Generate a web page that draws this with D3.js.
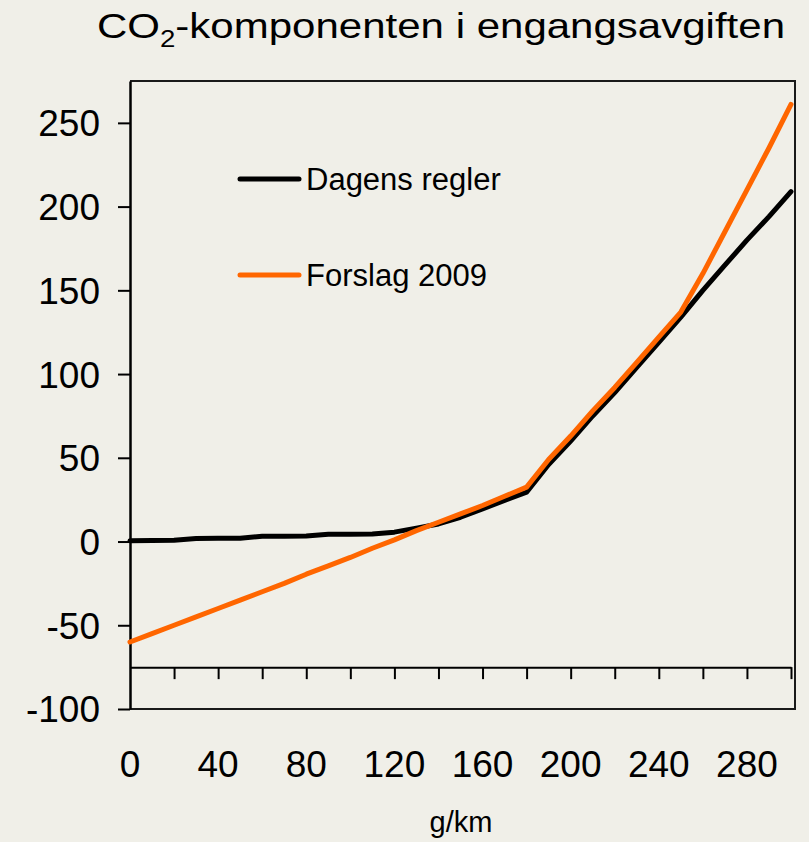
<!DOCTYPE html>
<html>
<head>
<meta charset="utf-8">
<script src="https://cdn.jsdelivr.net/npm/d3@7"></script>
<style>
  body { margin: 0; background: #f0efe8; }
  svg { display: block; font-family: "Liberation Sans", Arial, sans-serif; }
</style>
</head>
<body>
<div id="chart"></div>
<script>
// dimensions of the page
const width = 809;
const height = 842;

// data (g/km -> value)
const gkm = [0, 10, 20, 30, 40, 50, 60, 70, 80, 90, 100, 110, 120, 130, 140, 150,
  160, 170, 180, 190, 200, 210, 220, 230, 240, 250, 260, 270, 280, 290, 300];
const dagens = [0.5, 0.6, 0.7, 1.8, 1.9, 2.0, 3.1, 3.2, 3.3, 4.3, 4.4, 4.5, 5.6, 8, 10.5, 14.5,
  19.5, 24.5, 29.5, 46, 60, 75, 89, 104, 119, 134, 150, 165, 180, 194, 209];
const forslag = [-60, -55, -50, -45, -40, -35, -30, -25, -19.5, -14.5, -9.5, -4, 1, 6.5, 11.5, 16.5,
  21.5, 27, 32.5, 49, 63, 78, 92, 107, 122, 137, 160, 185, 210, 235, 261];

const seriesNames = ["Dagens regler", "Forslag 2009"];
const seriesColors = ["#000000", "#ff6600"];

const yTicks = [-100, -50, 0, 50, 100, 150, 200, 250];
const xMinorTicks = d3.range(20, 301, 20);
const xLabels = [0, 40, 80, 120, 160, 200, 240, 280];

const x = d3.scaleLinear().domain([0, 300]).range([130, 791]);
const y = d3.scaleLinear().domain([-100, 275]).range([709, 81]);

const svg = d3.select("#chart").append("svg")
    .attr("width", width)
    .attr("height", height);

svg.append("rect")
    .attr("width", width)
    .attr("height", height)
    .attr("fill", "#f0efe8");

// title with subscript 2
const title = svg.append("text")
    .attr("x", 97)
    .attr("y", 38)
    .attr("textLength", 688)
    .attr("lengthAdjust", "spacingAndGlyphs")
    .style("font-family", "'Liberation Sans Narrow', 'Liberation Sans', Arial, sans-serif")
    .style("font-size", "35px")
    .attr("fill", "#000");
title.append("tspan").text("CO");
title.append("tspan").attr("dy", 9).style("font-size", "23px").text("2");
title.append("tspan").attr("dy", -9).text("-komponenten i engangsavgiften");

// frame around the plot
svg.append("path")
    .attr("d", `M${x(0)},${y(275)}H795V${y(-100)}H${x(0)}`)
    .attr("fill", "none")
    .attr("stroke", "#1a1a1a")
    .attr("stroke-width", 2);

// y axis
const yAxis = svg.append("g")
    .attr("transform", `translate(${x(0)},0)`)
    .call(d3.axisLeft(y).tickValues(yTicks).tickSize(12).tickSizeOuter(0)
      .tickPadding(18).tickFormat(d => String(d)));
yAxis.select(".domain").attr("stroke-width", 2.5);
yAxis.selectAll(".tick line").attr("stroke-width", 2);
yAxis.selectAll("text")
    .style("font-size", "37px")
    .attr("dy", "0.35em");

// x axis drawn at -75, ticks every 20
const xAxis = svg.append("g")
    .attr("transform", `translate(0,${y(-75)})`)
    .call(d3.axisBottom(x).tickValues(xMinorTicks).tickSize(12).tickSizeOuter(0).tickFormat(""));
xAxis.select(".domain").attr("stroke-width", 2);
xAxis.selectAll(".tick line").attr("stroke-width", 2);

// x labels
svg.append("g")
    .style("font-size", "37px")
  .selectAll("text")
  .data(xLabels)
  .join("text")
    .attr("x", d => x(d))
    .attr("y", 777)
    .attr("text-anchor", "middle")
    .text(d => d);

svg.append("text")
    .attr("x", 461)
    .attr("y", 832)
    .attr("text-anchor", "middle")
    .style("font-size", "29px")
    .text("g/km");

// lines
const line = d3.line()
    .x((d, i) => x(gkm[i]))
    .y(d => y(d));

svg.append("g")
    .attr("fill", "none")
    .attr("stroke-width", 5)
    .attr("stroke-linejoin", "round")
    .attr("stroke-linecap", "round")
  .selectAll("path")
  .data([dagens, forslag])
  .join("path")
    .attr("stroke", (d, i) => seriesColors[i])
    .attr("d", line);

// legend
const legend = svg.append("g")
  .selectAll("g")
  .data(seriesNames)
  .join("g")
    .attr("transform", (d, i) => `translate(240,${179 + i * 96})`);

legend.append("line")
    .attr("x2", 59)
    .attr("stroke", (d, i) => seriesColors[i])
    .attr("stroke-width", 5)
    .attr("stroke-linecap", "round");

legend.append("text")
    .attr("x", 66)
    .attr("dy", "0.35em")
    .style("font-size", "31px")
    .text(d => d);
</script>
</body>
</html>
